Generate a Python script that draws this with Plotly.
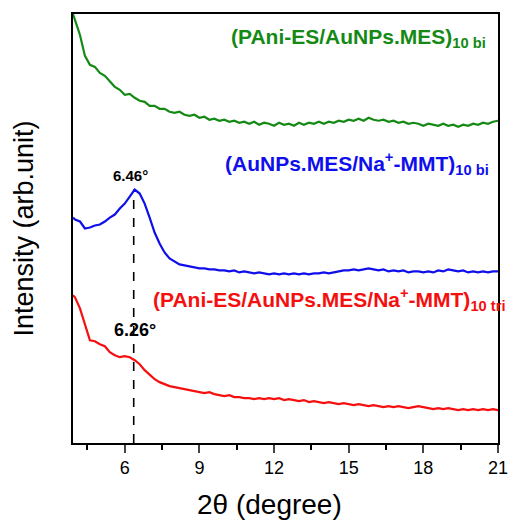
import plotly.graph_objects as go

two_theta = [3.92, 4.0, 4.2, 4.4, 4.6, 4.8, 5.0, 5.2, 5.4, 5.6,
             5.8, 6.0, 6.2, 6.4, 6.6, 6.8, 7.0, 7.2, 7.4, 7.6,
             7.8, 8.0, 8.2, 8.4, 8.6, 8.8, 9.0, 9.2, 9.4, 9.6,
             9.8, 10.0, 10.2, 10.4, 10.6, 10.8, 11.0, 11.2, 11.4, 11.6,
             11.8, 12.0, 12.2, 12.4, 12.6, 12.8, 13.0, 13.2, 13.4, 13.6,
             13.8, 14.0, 14.2, 14.4, 14.6, 14.8, 15.0, 15.2, 15.4, 15.6,
             15.8, 16.0, 16.2, 16.4, 16.6, 16.8, 17.0, 17.2, 17.4, 17.6,
             17.8, 18.0, 18.2, 18.4, 18.6, 18.8, 19.0, 19.2, 19.4, 19.6,
             19.8, 20.0, 20.2, 20.4, 20.6, 20.8, 21.0]

green_bi = [430, 424, 409, 388, 379, 377, 371, 368, 362, 357,
            354, 349, 350, 346, 343, 342, 338, 338, 335, 335,
            332, 331, 332, 329, 328, 329, 326, 327, 324, 325,
            323, 324, 322, 323, 321, 322, 320, 322, 319, 321,
            320, 318, 321, 319, 320, 318, 321, 319, 321, 320,
            322, 320, 322, 321, 323, 322, 324, 323, 325, 323,
            326, 324, 323, 324, 322, 323, 321, 322, 320, 321,
            320, 318, 320, 319, 318, 320, 318, 319, 317, 319,
            318, 320, 319, 321, 320, 322, 323]

blue_bi = [226, 224, 222, 215, 216, 218, 219, 222, 226, 229,
           235, 240, 247, 254, 250, 240, 226, 211, 200, 191,
           185, 182, 179, 178, 177, 176, 175, 175, 174, 174,
           173, 173, 172, 173, 171, 172, 171, 170, 171, 170,
           169, 170, 169, 170, 169, 170, 169, 170, 169, 170,
           170, 171, 170, 171, 172, 173, 173, 174, 173, 174,
           175, 174, 173, 174, 172, 173, 172, 173, 171, 172,
           172, 171, 172, 171, 173, 172, 174, 173, 172, 173,
           171, 172, 171, 172, 171, 172, 172]

red_tri = [148, 146, 135, 118, 103, 102, 99, 97, 91, 88,
           86, 87, 86, 83, 79, 73, 68, 64, 61, 59,
           57, 56, 55, 54, 53, 52, 51, 50, 51, 49,
           48, 47, 48, 46, 46, 45, 45, 44, 45, 44,
           45, 44, 45, 43, 44, 43, 42, 43, 41, 42,
           41, 40, 41, 40, 39, 40, 39, 38, 39, 38,
           37, 38, 37, 36, 37, 36, 37, 36, 35, 36,
           37, 36, 35, 34, 35, 34, 35, 34, 33, 34,
           33, 34, 33, 34, 33, 34, 33]

x_ticks = [6, 9, 12, 15, 18, 21]
peak_x = 6.36
peak_y = 254

FONT = "Liberation Sans, Arial, sans-serif"
GREEN = "rgb(20,138,20)"
BLUE = "rgb(15,15,235)"
RED = "rgb(245,15,15)"

fig = go.Figure()
fig.add_trace(go.Scatter(x=[peak_x, peak_x], y=[0, peak_y], mode="lines",
                         line=dict(color="black", width=1.6, dash="dash"), showlegend=False))
fig.add_trace(go.Scatter(x=two_theta, y=green_bi, mode="lines",
                         line=dict(color=GREEN, width=2.2), showlegend=False))
fig.add_trace(go.Scatter(x=two_theta, y=blue_bi, mode="lines",
                         line=dict(color=BLUE, width=2.2), showlegend=False))
fig.add_trace(go.Scatter(x=two_theta, y=red_tri, mode="lines",
                         line=dict(color=RED, width=2.2), showlegend=False))

ann = [
    dict(text="<b>(PAni-ES/AuNPs.MES)<sub>10 bi</sub></b>", x=20.6, y=406,
         xanchor="right", yanchor="middle", xref="x", yref="y",
         font=dict(color=GREEN, size=21)),
    dict(text="<b>(AuNPs.MES/Na<sup>+</sup>-MMT)<sub>10 bi</sub></b>", x=20.7, y=280,
         xanchor="right", yanchor="middle", xref="x", yref="y",
         font=dict(color=BLUE, size=21)),
    dict(text="<b>(PAni-ES/AuNPs.MES/Na<sup>+</sup>-MMT)<sub>10 tri</sub></b>", x=1.022, y=144,
         xanchor="right", yanchor="middle", xref="paper", yref="y",
         font=dict(color=RED, size=21)),
    dict(text="<b>6.46°</b>", x=6.24, y=268, xanchor="center", yanchor="middle",
         xref="x", yref="y", font=dict(color="black", size=15)),
    dict(text="<b>6.26°</b>", x=6.43, y=113, xanchor="center", yanchor="middle",
         xref="x", yref="y", font=dict(color="black", size=18)),
    dict(text="2θ (degree)", x=0.462, y=-0.143, xanchor="center", yanchor="middle",
         xref="paper", yref="paper", font=dict(color="black", size=28)),
]
for a in ann:
    a["showarrow"] = False
    a["font"]["family"] = FONT

fig.update_layout(
    width=520, height=524,
    margin=dict(l=73, r=12, t=13, b=81),
    paper_bgcolor="white", plot_bgcolor="white",
    font=dict(family=FONT, color="black"),
    annotations=ann,
    xaxis=dict(range=[3.92, 21.0], tickvals=x_ticks, ticks="outside", ticklen=8, tickwidth=1.5,
               showline=True, linecolor="black", linewidth=1.5, mirror=True,
               showgrid=False, zeroline=False, tickfont=dict(size=18),
               minor=dict(tickvals=[4.5, 7.5, 10.5, 13.5, 16.5, 19.5], ticks="outside",
                          ticklen=5, tickwidth=1.5, tickcolor="black")),
    yaxis=dict(range=[0, 430], showticklabels=False, ticks="",
               showline=True, linecolor="black", linewidth=1.5, mirror=True,
               showgrid=False, zeroline=False,
               title=dict(text="Intensity (arb.unit)", font=dict(size=27), standoff=30)),
)

fig.write_html("out.html")
